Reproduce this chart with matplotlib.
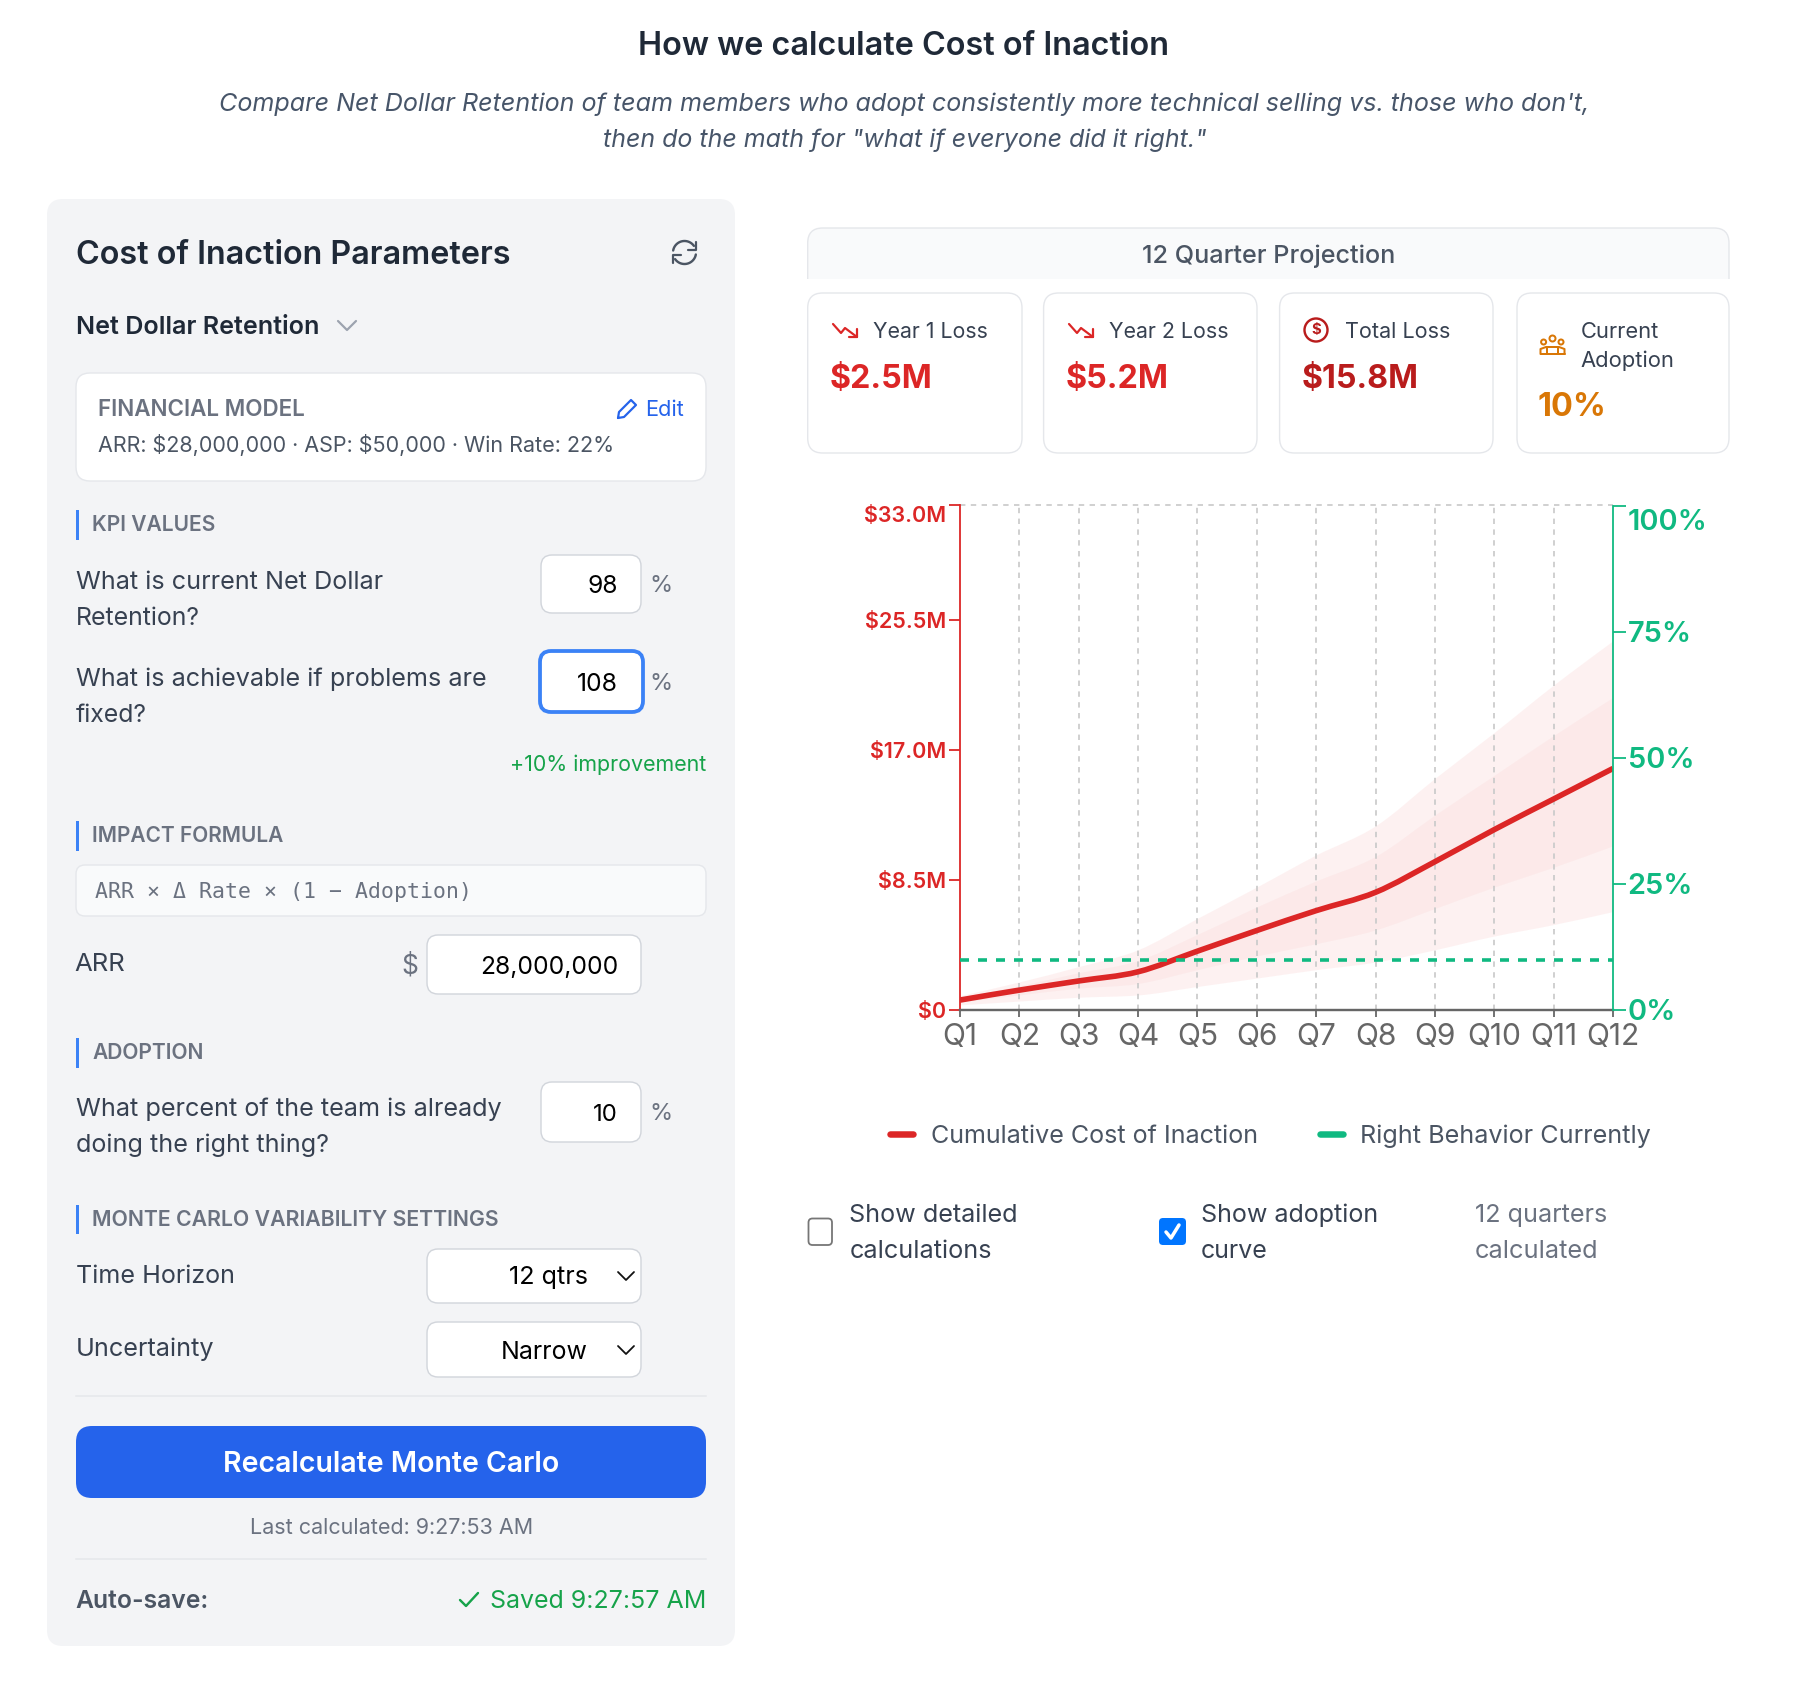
import numpy as np
import matplotlib
matplotlib.use("Agg")
import matplotlib.pyplot as plt
from matplotlib.patches import FancyBboxPatch, PathPatch, Rectangle, Circle
from matplotlib.path import Path
from matplotlib.transforms import ScaledTranslation

# --- chart data ($M per quarter) ------------------------------------------------------
quarters = ["Q1", "Q2", "Q3", "Q4", "Q5", "Q6", "Q7", "Q8", "Q9", "Q10", "Q11", "Q12"]
cost_mean = [0.65, 1.3, 1.9, 2.5, 3.85, 5.2, 6.5, 7.7, 9.7, 11.8, 13.8, 15.8]
outer_high = [0.9, 1.8, 2.8, 3.9, 5.95, 8.0, 10.1, 12.0, 15.1, 18.1, 21.2, 24.1]
inner_high = [0.8, 1.55, 2.4, 3.2, 4.9, 6.7, 8.4, 10.0, 12.7, 15.3, 17.9, 20.4]
inner_low = [0.5, 0.95, 1.4, 1.7, 2.6, 3.5, 4.3, 5.2, 6.6, 8.0, 9.3, 10.7]
outer_low = [0.3, 0.55, 0.8, 0.95, 1.5, 2.05, 2.6, 3.1, 3.9, 4.8, 5.55, 6.4]
adoption_pct = 10
money_ticks = [0, 8.5, 17.0, 25.5, 33.0]
money_labels = ["$0", "$8.5M", "$17.0M", "$25.5M", "$33.0M"]
pct_ticks = [0, 25, 50, 75, 100]
pct_labels = ["0%", "25%", "50%", "75%", "100%"]

RED, GREEN = "#dc2626", "#10b981"
W, H = 1820, 1688
PX = 0.72  # 1 px in points at dpi 100

plt.rcParams["font.family"] = ["Inter", "DejaVu Sans"]
fig = plt.figure(figsize=(W / 100, H / 100), dpi=100, facecolor="white")
ov = fig.add_axes([0, 0, 1, 1])
ov.set_xlim(0, W); ov.set_ylim(H, 0); ov.axis("off")
rend = fig.canvas.get_renderer()


def T(x, y, s, w=None, px=25, color="#374151", weight="normal", ha="left", **kw):
    """text on a baseline, font size fitted so the string comes out w pixels wide"""
    t = ov.text(x, y, s, fontsize=px * PX, color=color, weight=weight, ha=ha, va="baseline",
                parse_math=False, **kw)
    if w:
        t.set_fontsize(t.get_fontsize() * w / t.get_window_extent(rend).width)
    return t


def box(x0, y0, x1, y1, r, fc="white", ec="none", lw=1.4, **kw):
    p = FancyBboxPatch((x0, y0), x1 - x0, y1 - y0, boxstyle=f"round,pad=0,rounding_size={r}",
                       fc=fc, ec=ec, lw=lw * PX, **kw)
    ov.add_patch(p)
    return p


def poly(pts, color, lw=2.2, closed=False):
    pts = list(pts) + ([pts[0]] if closed else [])
    xs, ys = zip(*pts)
    ov.plot(xs, ys, color=color, lw=lw * PX, solid_capstyle="round", solid_joinstyle="round")


def arc(cx, cy, r, a0, a1, color, lw=2.4):
    a = np.radians(np.linspace(a0, a1, 40))
    ov.plot(cx + r * np.cos(a), cy - r * np.sin(a), color=color, lw=lw * PX, solid_capstyle="round")


def monotone(x, y):
    """d3 curveMonotoneX segments as Bezier vertices"""
    x, y = np.asarray(x, float), np.asarray(y, float)
    s = np.diff(y) / np.diff(x)
    t = np.zeros_like(y)
    t[1:-1] = (np.sign(s[:-1]) + np.sign(s[1:])) * np.minimum(
        np.minimum(abs(s[:-1]), abs(s[1:])), 0.25 * abs(s[:-1] + s[1:]))
    t[0] = (3 * s[0] - t[1]) / 2
    t[-1] = (3 * s[-1] - t[-2]) / 2
    v = [(x[0], y[0])]
    for i in range(len(x) - 1):
        d = (x[i + 1] - x[i]) / 3
        v += [(x[i] + d, y[i] + t[i] * d), (x[i + 1] - d, y[i + 1] - t[i + 1] * d), (x[i + 1], y[i + 1])]
    return v


def band(ax, x, low, high, alpha):
    up = monotone(x, high)
    dn = monotone(x[::-1], low[::-1])
    verts = up + [dn[0]] + dn[1:] + [up[0]]
    codes = [Path.MOVETO] + [Path.CURVE4] * (len(up) - 1) + [Path.LINETO] + \
            [Path.CURVE4] * (len(dn) - 1) + [Path.CLOSEPOLY]
    ax.add_patch(PathPatch(Path(verts, codes), fc="#ef4444", ec="none", alpha=alpha, zorder=1))


# --- page header ----------------------------------------------------------------------
T(638, 55, "How we calculate Cost of Inaction", w=531, color="#1f2937", weight=600)
T(219, 111, "Compare Net Dollar Retention of team members who adopt consistently more technical selling vs. those who don't,",
  w=1369, color="#475569", style="italic")
T(603, 147, "then do the math for \"what if everyone did it right.\"", w=604, color="#475569", style="italic")

# --- left panel -----------------------------------------------------------------------
box(47, 199, 735, 1646, 16, fc="#f3f4f6")
T(76, 264, "Cost of Inaction Parameters", w=435, color="#1f2937", weight=600)
arc(684.5, 252.5, 11.5, 170, 35, "#4b5563"); arc(684.5, 252.5, 11.5, -10, -145, "#4b5563")
poly([(695.5, 242), (695.5, 250), (687.5, 250)], "#4b5563"); poly([(673, 263), (673, 255), (681, 255)], "#4b5563")
T(76, 334, "Net Dollar Retention", w=243, color="#1f2937", weight=600)
poly([(338, 321), (347, 330), (356, 321)], "#9ca3af")

box(76, 373, 706, 481, 14, ec="#e5e7eb")
T(98.5, 416, "FINANCIAL MODEL", w=208, color="#6b7280", weight=600)
T(684, 416, "Edit", w=39, color="#2563eb", ha="right")
poly([(618, 418), (619, 412), (631, 400), (636, 405), (624, 417)], "#2563eb", closed=True)
T(98.5, 452, "ARR: $28,000,000 · ASP: $50,000 · Win Rate: 22%", w=518, color="#4b5563")

for top, bot, base, s, wd in [(510, 540, 531, "KPI VALUES", 124), (821, 851, 842, "IMPACT FORMULA", 192),
                              (1038, 1068, 1059, "ADOPTION", 112),
                              (1205, 1234, 1226, "MONTE CARLO VARIABILITY SETTINGS", 408)]:
    ov.add_patch(Rectangle((76, top), 3, bot - top, fc="#3b82f6", ec="none"))
    T(92.5, base, s, w=wd, color="#6b7280", weight=600)

T(76, 589, "What is current Net Dollar", w=306)
T(76, 625, "Retention?", w=124)
T(76, 686, "What is achievable if problems are", w=409)
T(76, 722, "fixed?", w=71)
box(541, 555, 641, 613, 11, ec="#d1d5db")
T(618, 593, "98", w=30.5, color="black", ha="right")
T(649, 592, "%", w=23, color="#6b7280")
box(540, 651, 643, 712, 11, ec="#3b82f6", lw=3.8)
T(618, 691, "108", w=41, color="black", ha="right")
T(649, 690, "%", w=23, color="#6b7280")
T(706, 771, "+10% improvement", w=196, color="#16a34a", ha="right")

box(76, 865, 706, 916, 9, fc="#f9fafb", ec="#e5e7eb")
T(95, 898, "ARR × Δ Rate × (1 − Adoption)", w=374, color="#6b7280", family="DejaVu Sans Mono")
T(74.5, 971, "ARR", w=51)
T(401, 974, "$", w=17, color="#6b7280")
box(427, 935, 641, 994, 11, ec="#d1d5db")
T(618, 974, "28,000,000", w=138, color="black", ha="right")

T(76, 1116, "What percent of the team is already", w=424)
T(76, 1152, "doing the right thing?", w=252)
box(541, 1082, 641, 1142, 11, ec="#d1d5db")
T(618, 1121, "10", w=25, color="black", ha="right")
T(649, 1120, "%", w=23, color="#6b7280")

T(76, 1283, "Time Horizon", w=159)
box(427, 1249, 641, 1303, 11, ec="#d1d5db")
T(588, 1284, "12 qtrs", w=79, color="black", ha="right")
poly([(618, 1272), (626, 1280), (634, 1272)], "#111111", lw=1.8)
T(76, 1356, "Uncertainty", w=138)
box(427, 1322, 641, 1377, 11, ec="#d1d5db")
T(588, 1359, "Narrow", w=87, color="black", ha="right")
poly([(618, 1346), (626, 1354), (634, 1346)], "#111111", lw=1.8)

ov.plot([76, 706], [1396, 1396], color="#e5e7eb", lw=1.5 * PX)
box(76, 1426, 706, 1498, 16, fc="#2563eb")
T(223, 1472, "Recalculate Monte Carlo", w=336, color="white", weight=600)
T(250, 1534, "Last calculated: 9:27:53 AM", w=283, color="#6b7280")
ov.plot([76, 706], [1559, 1559], color="#e5e7eb", lw=1.5 * PX)
T(75.5, 1608, "Auto-save:", w=133, color="#4b5563", weight=600)
poly([(460, 1600), (466, 1606), (478, 1593)], "#16a34a", lw=2.4)
T(706, 1608, "Saved 9:27:57 AM", w=216, color="#16a34a", ha="right")

# --- right column: header and stat cards ----------------------------------------------
hd = box(807.7, 228, 1729, 310, 15, fc="#f9fafb", ec="#e5e7eb")
hd.set_clip_path(Rectangle((800, 220), 950, 59, transform=ov.transData))
T(1142.5, 263, "12 Quarter Projection", w=253, color="#4b5563", weight=500)

for x0, x1 in [(807.7, 1022), (1043.6, 1257), (1279.6, 1493), (1517, 1729)]:
    box(x0, 293, x1, 453, 15, ec="#e5e7eb")
T(873, 338, "Year 1 Loss", w=115)
T(1109, 338, "Year 2 Loss", w=119.6)
T(1345, 338, "Total Loss", w=105.5)
T(1580.5, 338, "Current", w=78)
T(1580.5, 367, "Adoption", w=93.5)
T(829.6, 388, "$2.5M", w=102.8, color=RED, weight="bold")
T(1065.6, 388, "$5.2M", w=103, color=RED, weight="bold")
T(1301.6, 388, "$15.8M", w=116.8, color="#b91c1c", weight="bold")
T(1537.5, 416, "10%", w=68.5, color="#d97706", weight="bold")
for dx in [0, 236]:
    poly([(833 + dx, 324), (841 + dx, 333), (845 + dx, 328), (857 + dx, 337)], RED)
    poly([(857 + dx, 329), (857 + dx, 337), (849 + dx, 337)], RED)
ov.add_patch(Circle((1316, 330), 11.5, fc="none", ec="#b91c1c", lw=2.4 * PX))
ov.text(1316, 330, "$", fontsize=15 * PX, color="#b91c1c", weight="bold", ha="center", va="center", parse_math=False)
AMB = "#d97706"
for cx, cy, r in [(1552.5, 338.5, 3), (1543.6, 342, 2.5), (1561, 342, 2.5)]:
    ov.add_patch(Circle((cx, cy), r, fc="none", ec=AMB, lw=2 * PX))
poly([(1540.5, 354), (1540.5, 349), (1546, 347), (1559, 347), (1564.5, 349), (1564.5, 354)], AMB, lw=2)
poly([(1540.5, 354), (1564.5, 354)], AMB, lw=2)
poly([(1547, 354), (1547, 348)], AMB, lw=2); poly([(1558, 354), (1558, 348)], AMB, lw=2)

# --- the chart ------------------------------------------------------------------------
L, R, TOP, BOT = 960, 1613, 505.5, 1010
ax = fig.add_axes([L / W, 1 - BOT / H, (R - L) / W, (BOT - TOP) / H], facecolor="none")
x = np.arange(len(quarters))
band(ax, x, np.array(outer_low), np.array(outer_high), 0.07)
band(ax, x, np.array(inner_low), np.array(inner_high), 0.045)
ax.set_xlim(0, 11); ax.set_ylim(0, 33)
for q in x[1:-1]:
    ax.axvline(q, color="#cccccc", lw=1.8 * PX, dashes=(3, 3), zorder=2)
ax.axhline(33, color="#cccccc", lw=1.8 * PX, dashes=(3, 3), zorder=2, clip_on=False)
v = monotone(x, cost_mean)
ax.add_patch(PathPatch(Path(v, [Path.MOVETO] + [Path.CURVE4] * (len(v) - 1)), fc="none", ec=RED,
                       lw=5.6 * PX, zorder=3, capstyle="butt"))

ax.set_xticks(x, quarters, fontsize=30 * PX, color="#666666")
ax.set_yticks(money_ticks, money_labels, fontsize=21.5 * PX, color=RED, weight=600)
ax.tick_params(axis="x", length=7 * PX, width=1.8 * PX, color="#666666", pad=6 * PX)
ax.tick_params(axis="y", length=11 * PX, width=1.8 * PX, color=RED, pad=3 * PX)
ax.get_yticklabels()[-1].set_va("top")
for s in ["top", "right"]:
    ax.spines[s].set_visible(False)
ax.spines["left"].set_color(RED); ax.spines["left"].set_linewidth(1.8 * PX)
ax.spines["bottom"].set_color("#666666"); ax.spines["bottom"].set_linewidth(2.4 * PX)

ax2 = ax.twinx()
ax2.set_ylim(0, 100); ax2.set_facecolor("none")
ax2.axhline(adoption_pct, color=GREEN, lw=3.6 * PX, dashes=(2.5, 2.5), zorder=4)
ax2.set_yticks(pct_ticks, pct_labels, fontsize=29 * PX, color=GREEN, weight=600)
ax2.tick_params(axis="y", length=13 * PX, width=1.8 * PX, color=GREEN, pad=1.5 * PX)
top_lbl = ax2.get_yticklabels()[-1]
top_lbl.set_va("top")
top_lbl.set_transform(top_lbl.get_transform() + ScaledTranslation(0, -3 * PX / 72, fig.dpi_scale_trans))
for s in ["top", "left", "bottom"]:
    ax2.spines[s].set_visible(False)
ax2.spines["right"].set_color(GREEN); ax2.spines["right"].set_linewidth(1.8 * PX)

# --- legend and toggles ---------------------------------------------------------------
ov.plot([890, 913], [1134, 1134], color=RED, lw=6.5 * PX, solid_capstyle="round")
T(931.4, 1143, "Cumulative Cost of Inaction", w=327, color="#4b5563")
ov.plot([1320, 1343], [1134, 1134], color=GREEN, lw=6.5 * PX, solid_capstyle="round")
T(1360, 1143, "Right Behavior Currently", w=289.5, color="#4b5563")

box(808.5, 1218.5, 832, 1245, 4, ec="#767676", lw=1.8)
T(849.4, 1222, "Show detailed", w=168.4)
T(849.4, 1258, "calculations", w=141.8)
box(1159, 1218, 1186, 1245, 4, fc="#0075ff")
poly([(1166, 1232), (1171, 1238), (1179, 1225)], "white", lw=3.5)
T(1200.8, 1222, "Show adoption", w=177.5)
T(1200.8, 1258, "curve", w=66.7)
T(1474.7, 1222, "12 quarters", w=132, color="#6b7280")
T(1474.7, 1258, "calculated", w=123, color="#6b7280")

fig.savefig("out.png", dpi=100)
